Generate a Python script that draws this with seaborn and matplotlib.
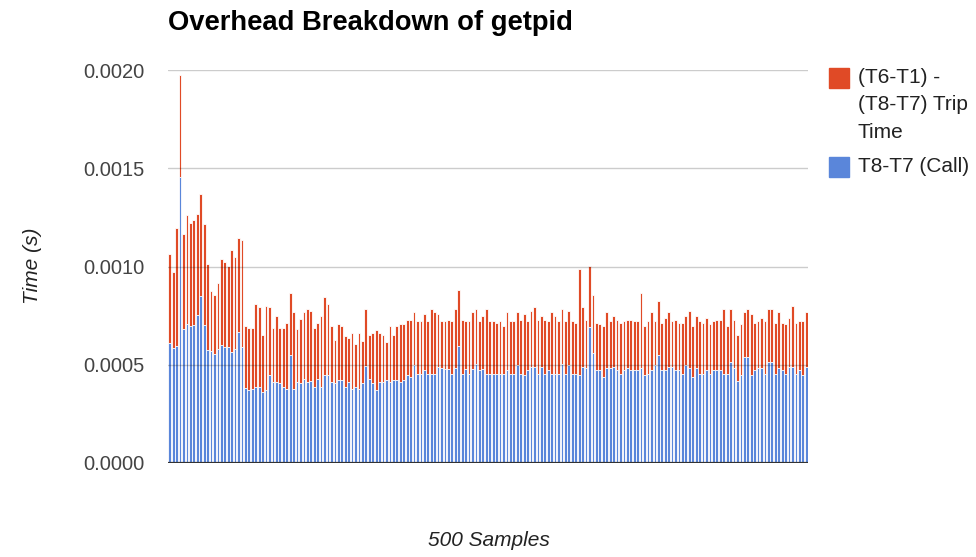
import numpy as np
import pandas as pd
import seaborn as sns
import matplotlib.pyplot as plt
from matplotlib.patches import Rectangle

# Values, in milliseconds (one entry per bar)
# T6-T1 = full bar height, T8-T7 = blue (call) part
total_ms = [
    1.066, 0.970, 1.197, 1.976, 1.164, 1.260, 1.223, 1.239, 1.265, 1.371,
    1.214, 1.012, 0.874, 0.855, 0.916, 1.039, 1.022, 1.003, 1.083, 1.047,
    1.143, 1.133, 0.696, 0.688, 0.688, 0.809, 0.793, 0.653, 0.801, 0.793,
    0.688, 0.749, 0.688, 0.688, 0.713, 0.863, 0.767, 0.681, 0.734, 0.766,
    0.784, 0.776, 0.688, 0.713, 0.749, 0.847, 0.809,
    0.695, 0.627, 0.705, 0.695, 0.644, 0.636, 0.661, 0.607, 0.661, 0.621,
    0.784, 0.649, 0.661, 0.678, 0.661, 0.649, 0.616, 0.695, 0.653, 0.695,
    0.705, 0.705, 0.730, 0.730, 0.767, 0.722, 0.722, 0.759, 0.725, 0.784,
    0.767, 0.759, 0.722, 0.722, 0.730, 0.722, 0.784, 0.880, 0.730, 0.722,
    0.722, 0.767, 0.784, 0.722, 0.750, 0.784,
    0.722, 0.722, 0.713, 0.722, 0.695, 0.767, 0.722, 0.722, 0.767, 0.730,
    0.759, 0.722, 0.776, 0.793, 0.730, 0.750, 0.730, 0.722, 0.767, 0.750,
    0.722, 0.784, 0.722, 0.776, 0.722, 0.713, 0.987, 0.793, 0.730, 1.003,
    0.855, 0.713, 0.705, 0.695, 0.767, 0.722, 0.750, 0.730, 0.713, 0.722,
    0.730, 0.730, 0.722, 0.722, 0.863, 0.695, 0.722,
    0.767, 0.722, 0.826, 0.713, 0.739, 0.767, 0.722, 0.730, 0.713, 0.713,
    0.747, 0.776, 0.695, 0.747, 0.722, 0.713, 0.739, 0.705, 0.722, 0.730,
    0.730, 0.784, 0.695, 0.784, 0.730, 0.649, 0.705, 0.767, 0.784, 0.759,
    0.713, 0.722, 0.739, 0.722, 0.784, 0.784, 0.713, 0.767, 0.713, 0.705,
    0.739, 0.801, 0.713, 0.722, 0.722, 0.767,
]

call_ms = [
    0.610, 0.587, 0.595, 1.454, 0.683, 0.708, 0.695, 0.703, 0.754, 0.850,
    0.703, 0.577, 0.570, 0.553, 0.580, 0.599, 0.590, 0.590, 0.563, 0.580,
    0.666, 0.590, 0.384, 0.371, 0.379, 0.388, 0.388, 0.363, 0.371, 0.447,
    0.411, 0.411, 0.405, 0.388, 0.376, 0.548, 0.379, 0.411, 0.405, 0.427,
    0.411, 0.417, 0.388, 0.427, 0.388, 0.447, 0.447,
    0.413, 0.405, 0.422, 0.422, 0.388, 0.413, 0.379, 0.388, 0.379, 0.405,
    0.492, 0.430, 0.405, 0.371, 0.413, 0.413, 0.422, 0.413, 0.422, 0.422,
    0.413, 0.422, 0.447, 0.438, 0.497, 0.455, 0.455, 0.472, 0.455, 0.455,
    0.455, 0.489, 0.481, 0.476, 0.476, 0.455, 0.481, 0.594, 0.455, 0.476,
    0.455, 0.476, 0.506, 0.472, 0.476, 0.455,
    0.455, 0.455, 0.455, 0.455, 0.455, 0.472, 0.455, 0.455, 0.497, 0.455,
    0.447, 0.472, 0.489, 0.489, 0.455, 0.489, 0.455, 0.472, 0.455, 0.455,
    0.455, 0.506, 0.455, 0.497, 0.455, 0.455, 0.447, 0.489, 0.481, 0.691,
    0.560, 0.472, 0.472, 0.438, 0.481, 0.481, 0.489, 0.472, 0.455, 0.472,
    0.481, 0.472, 0.472, 0.472, 0.481, 0.447, 0.455,
    0.472, 0.497, 0.548, 0.472, 0.472, 0.489, 0.489, 0.472, 0.472, 0.455,
    0.497, 0.481, 0.438, 0.481, 0.455, 0.455, 0.472, 0.455, 0.472, 0.472,
    0.472, 0.455, 0.455, 0.514, 0.481, 0.418, 0.447, 0.540, 0.540, 0.447,
    0.472, 0.481, 0.481, 0.455, 0.514, 0.514, 0.455, 0.481, 0.472, 0.455,
    0.489, 0.489, 0.455, 0.472, 0.447, 0.489,
]

series_labels = ["(T6-T1) -\n(T8-T7) Trip\nTime", "T8-T7 (Call)"]
y_ticks = [0.0, 0.0005, 0.0010, 0.0015, 0.0020]

RED = "#e04a26"
BLUE = "#5a86da"

df = pd.DataFrame({
    "sample": np.arange(len(total_ms)),
    "total": np.array(total_ms) / 1000.0,
    "call": np.array(call_ms) / 1000.0,
})

sns.set_style("white")
plt.rcParams["font.family"] = ["Liberation Sans", "DejaVu Sans"]

fig = plt.figure(figsize=(9.76, 5.57), dpi=100)
ax = fig.add_axes([168 / 976, 1 - 463 / 557, 640 / 976, 393 / 557])

# stacked look: full height in red, call part in blue over it
sns.barplot(data=df, x="sample", y="total", color=RED, saturation=1,
            width=0.8, errorbar=None, edgecolor="white", linewidth=0.6, ax=ax)
sns.barplot(data=df, x="sample", y="call", color=BLUE, saturation=1,
            width=0.8, errorbar=None, edgecolor="white", linewidth=0.6, ax=ax)

ax.set_xlim(-0.5, len(total_ms) - 0.5)
ax.set_ylim(0, 0.002)
ax.set_xticks([])
ax.set_yticks(y_ticks)
ax.set_yticklabels([f"{t:.4f}" for t in y_ticks])
ax.tick_params(axis="y", length=0, pad=17, labelsize=14.5, labelcolor="#444444")
ax.set_xlabel("")
ax.set_ylabel("")
for s in ax.spines.values():
    s.set_visible(False)

# gridlines are drawn over the bars in the original
for t in y_ticks[1:]:
    ax.axhline(t, color="black", alpha=0.2, linewidth=1, zorder=5)
ax.axhline(0, color="#333333", linewidth=1.6, zorder=6)

fig.text(168 / 976, 1 - 30 / 557, "Overhead Breakdown of getpid",
         fontsize=19.7, fontweight="bold", color="black", va="baseline", ha="left")
fig.text(33 / 976, 1 - 266 / 557, "Time (s)", rotation=90, style="italic",
         fontsize=15, color="#222222", va="center", ha="center")
fig.text(489 / 976, 1 - 541 / 557, "500 Samples", style="italic",
         fontsize=15, color="#222222", va="center", ha="center")

# legend on the right
fig.add_artist(Rectangle((829 / 976, 1 - 88 / 557), 20 / 976, 20 / 557,
                         transform=fig.transFigure, color=RED))
fig.add_artist(Rectangle((829 / 976, 1 - 177 / 557), 20 / 976, 20 / 557,
                         transform=fig.transFigure, color=BLUE))
fig.text(858 / 976, 1 - 105 / 557, series_labels[0], fontsize=15,
         color="#222222", va="center", ha="left", linespacing=1.55)
fig.text(858 / 976, 1 - 166 / 557, series_labels[1], fontsize=15,
         color="#222222", va="center", ha="left")

fig.savefig("out.png", dpi=100)
